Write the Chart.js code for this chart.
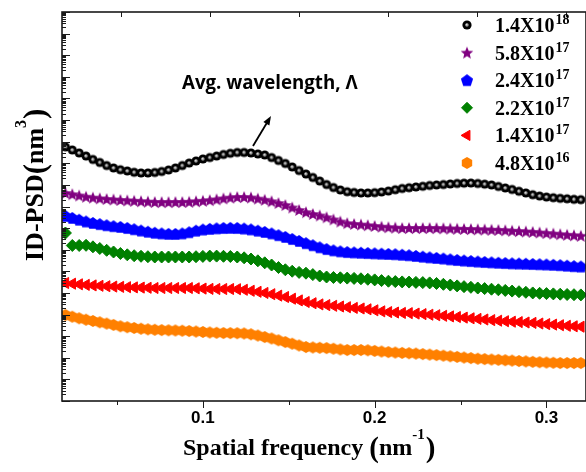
<!DOCTYPE html>
<html>
<head>
<meta charset="utf-8">
<script src="https://cdn.jsdelivr.net/npm/chart.js@4.4.1/dist/chart.umd.min.js"></script>
<style>
  html, body { margin: 0; padding: 0; background: #fff; }
  #wrap { width: 586px; height: 472px; }
</style>
</head>
<body>
<div id="wrap"><canvas id="psdChart" width="586" height="472"></canvas></div>
<script>
// spatial frequency (nm^-1)
const freq = [0.020,0.024,0.028,0.032,0.036,0.040,0.044,0.048,0.052,0.056,
  0.060,0.064,0.068,0.072,0.076,0.080,0.084,0.088,0.092,0.096,
  0.100,0.104,0.108,0.112,0.116,0.120,0.124,0.128,0.132,0.136,
  0.140,0.144,0.148,0.152,0.156,0.160,0.164,0.168,0.172,0.176,
  0.180,0.184,0.188,0.192,0.196,0.200,0.204,0.208,0.212,0.216,
  0.220,0.224,0.228,0.232,0.236,0.240,0.244,0.248,0.252,0.256,
  0.260,0.264,0.268,0.272,0.276,0.280,0.284,0.288,0.292,0.296,
  0.300,0.304,0.308,0.312,0.316,0.320];

// 1D-PSD (nm^3) for each fluence
const psd14e18 = [5.68e11,4.12e11,2.99e11,2.17e11,1.50e11,1.09e11,7.89e10,6.05e10,5.05e10,4.40e10,
  3.83e10,3.55e10,3.55e10,3.75e10,4.17e10,4.89e10,6.05e10,7.89e10,1.03e11,1.28e11,
  1.58e11,1.85e11,2.17e11,2.55e11,2.90e11,3.16e11,3.16e11,2.99e11,2.69e11,2.42e11,
  1.85e11,1.35e11,9.77e10,6.73e10,4.63e10,3.19e10,2.20e10,1.51e10,1.04e10,7.57e9,
  5.81e9,4.84e9,4.45e9,4.22e9,4.22e9,4.36e9,4.69e9,5.21e9,5.98e9,6.81e9,
  7.41e9,8.00e9,8.61e9,9.38e9,9.89e9,1.04e10,1.10e10,1.16e10,1.20e10,1.22e10,
  1.16e10,1.08e10,9.89e9,8.43e9,7.18e9,6.12e9,5.05e9,4.22e9,3.52e9,3.06e9,
  2.75e9,2.55e9,2.39e9,2.27e9,2.15e9,2.07e9];
const psd58e17 = [4.22e9,3.71e9,3.23e9,2.84e9,2.58e9,2.39e9,2.22e9,2.11e9,2.00e9,1.91e9,
  1.84e9,1.76e9,1.69e9,1.61e9,1.60e9,1.60e9,1.61e9,1.61e9,1.65e9,1.74e9,
  1.84e9,1.96e9,2.15e9,2.37e9,2.58e9,2.75e9,2.75e9,2.61e9,2.32e9,2.04e9,
  1.74e9,1.45e9,1.17e9,8.99e8,6.89e8,5.46e8,4.50e8,3.84e8,3.16e8,2.53e8,
  2.02e8,1.69e8,1.55e8,1.46e8,1.36e8,1.26e8,1.17e8,1.10e8,1.06e8,1.01e8,
  1.01e8,1.01e8,1.01e8,1.01e8,1.00e8,9.79e7,9.59e7,9.40e7,9.20e7,9.00e7,
  8.81e7,8.63e7,8.45e7,8.26e7,7.93e7,7.59e7,7.28e7,6.97e7,6.68e7,6.27e7,
  5.87e7,5.57e7,5.22e7,4.91e7,4.66e7,4.41e7];
const psd24e17 = [3.64e8,2.94e8,2.43e8,2.02e8,1.73e8,1.52e8,1.35e8,1.22e8,1.13e8,1.01e8,
  8.81e7,7.67e7,6.75e7,6.07e7,5.64e7,5.40e7,5.35e7,5.64e7,6.40e7,7.59e7,
  8.53e7,9.20e7,9.70e7,1.01e8,1.02e8,1.01e8,9.48e7,8.63e7,7.59e7,6.61e7,
  5.64e7,4.70e7,3.88e7,3.13e7,2.54e7,2.00e7,1.60e7,1.29e7,1.07e7,9.31e6,
  8.36e6,7.76e6,7.45e6,7.21e6,6.98e6,6.76e6,6.55e6,6.34e6,6.14e6,5.82e6,
  5.52e6,5.13e6,4.75e6,4.42e6,4.14e6,3.88e6,3.56e6,3.34e6,3.14e6,2.98e6,
  2.82e6,2.70e6,2.59e6,2.48e6,2.40e6,2.33e6,2.28e6,2.23e6,2.18e6,2.12e6,
  2.07e6,2.00e6,1.92e6,1.82e6,1.73e6,1.66e6];
const psd22e17 = [5.94e7,1.57e7,1.57e7,1.60e7,1.36e7,1.14e7,9.40e6,7.85e6,6.68e6,5.82e6,
  5.28e6,4.97e6,4.75e6,4.60e6,4.60e6,4.60e6,4.60e6,4.60e6,4.60e6,4.75e6,
  4.91e6,5.07e6,5.07e6,4.97e6,4.85e6,4.60e6,4.23e6,3.72e6,3.07e6,2.48e6,
  1.96e6,1.50e6,1.18e6,1.01e6,8.93e5,8.20e5,7.06e5,6.08e5,5.47e5,5.19e5,
  5.02e5,4.86e5,4.71e5,4.52e5,4.29e5,4.02e5,3.72e5,3.49e5,3.35e5,3.24e5,
  3.18e5,3.08e5,3.01e5,2.92e5,2.74e5,2.51e5,2.31e5,2.12e5,1.96e5,1.82e5,
  1.69e5,1.59e5,1.49e5,1.40e5,1.31e5,1.22e5,1.14e5,1.07e5,1.00e5,9.62e4,
  9.31e4,9.04e4,8.75e4,8.47e4,8.30e4,8.11e4];
const psd14e17 = [2.88e5,2.68e5,2.51e5,2.36e5,2.23e5,2.14e5,2.05e5,1.97e5,1.91e5,1.85e5,
  1.81e5,1.77e5,1.73e5,1.69e5,1.69e5,1.69e5,1.69e5,1.69e5,1.69e5,1.64e5,
  1.59e5,1.54e5,1.52e5,1.52e5,1.52e5,1.49e5,1.40e5,1.26e5,1.13e5,1.00e5,
  8.75e4,7.53e4,6.49e4,5.42e4,4.52e4,3.81e4,3.35e4,2.95e4,2.74e4,2.54e4,
  2.36e4,2.19e4,2.03e4,1.91e4,1.75e4,1.57e4,1.41e4,1.30e4,1.24e4,1.19e4,
  1.16e4,1.11e4,1.05e4,9.84e3,9.33e3,8.75e3,8.22e3,7.71e3,7.23e3,6.71e3,
  6.30e3,5.90e3,5.53e3,5.20e3,4.92e3,4.67e3,4.48e3,4.29e3,4.11e3,3.85e3,
  3.61e3,3.43e3,3.21e3,3.02e3,2.86e3,2.74e3];
const psd48e16 = [9.53e3,7.96e3,6.71e3,5.78e3,5.04e3,4.38e3,3.81e3,3.32e3,2.86e3,2.60e3,
  2.39e3,2.21e3,2.07e3,1.97e3,1.91e3,1.87e3,1.83e3,1.79e3,1.73e3,1.64e3,
  1.56e3,1.48e3,1.43e3,1.40e3,1.39e3,1.37e3,1.33e3,1.22e3,1.07e3,914,
  780,643,537,448,370,315,299,290,281,263,
  242,229,229,229,222,208,195,183,175,168,
  163,156,148,140,133,125,117,110,103,96.6,
  90.6,86.7,83.2,80.5,77.1,74.0,70.8,67.9,65.0,62.4,
  60.4,58.5,57.3,57.3,57.3,57.3];

// legend text: mantissa and power of ten
const legendBase = ["1.4X10", "5.8X10", "2.4X10", "2.2X10", "1.4X10", "4.8X10"];
const legendPow = ["18", "17", "17", "17", "17", "16"];

// x axis ticks
const xTickValues = [0.05, 0.1, 0.15, 0.2, 0.25, 0.3];
const xTickLabels = ["", "0.1", "", "0.2", "", "0.3"];
const topTickValues = [0.05, 0.1, 0.15, 0.2, 0.25, 0.3];

// little canvases used as point markers
function makeMarker(draw) {
    let c = document.createElement("canvas");
    c.width = 16; c.height = 16;
    let g = c.getContext("2d");
    draw(g, 8, 8);
    return c;
}
function polyPath(g, cx, cy, n, r, r2) {
    g.beginPath();
    let count = r2 ? n * 2 : n;
    for (let i = 0; i < count; i++) {
        let rr = (r2 && i % 2 === 1) ? r2 : r;
        let a = -Math.PI / 2 + i * 2 * Math.PI / count;
        let px = cx + rr * Math.cos(a), py = cy + rr * Math.sin(a);
        if (i === 0) g.moveTo(px, py); else g.lineTo(px, py);
    }
    g.closePath();
}

const sphere = makeMarker(function (g, cx, cy) {
    g.fillStyle = "#000";
    g.beginPath(); g.arc(cx, cy, 4.6, 0, Math.PI * 2); g.fill();
    let grad = g.createRadialGradient(cx - 0.4, cy - 0.4, 0, cx, cy, 2.3);
    grad.addColorStop(0, "#e6e6e6");
    grad.addColorStop(0.55, "#8a8a8a");
    grad.addColorStop(1, "#000");
    g.fillStyle = grad;
    g.beginPath(); g.arc(cx, cy, 2.3, 0, Math.PI * 2); g.fill();
});
const star = makeMarker(function (g, cx, cy) {
    g.fillStyle = "#800080";
    polyPath(g, cx, cy + 0.6, 5, 6.6, 2.9); g.fill();
});
const pentagon = makeMarker(function (g, cx, cy) {
    g.fillStyle = "#0000ff";
    polyPath(g, cx, cy + 0.5, 5, 6.4); g.fill();
});
const hexagon = makeMarker(function (g, cx, cy) {
    g.fillStyle = "#ff8000";
    polyPath(g, cx, cy, 6, 6); g.fill();
});

const series = [
    { values: psd14e18, style: sphere, radius: 4, color: "#000000", rot: 0 },
    { values: psd58e17, style: star, radius: 5, color: "#800080", rot: 0 },
    { values: psd24e17, style: pentagon, radius: 5, color: "#0000ff", rot: 0 },
    { values: psd22e17, style: "rectRot", radius: 6, color: "#008000", rot: 0 },
    { values: psd14e17, style: "triangle", radius: 6.4, color: "#ff0000", rot: -90 },
    { values: psd48e16, style: hexagon, radius: 5, color: "#ff8000", rot: 0 }
];

const decor = {
    id: "decor",
    afterDatasetsDraw(chart) {
        const { ctx, chartArea: a, scales } = chart;
        ctx.save();
        ctx.strokeStyle = "#1a1a1a";

        // log ticks on the left, pointing in
        ctx.lineWidth = 1;
        for (let e = 0; e <= 18; e++) {
            for (let k = 1; k <= 9; k++) {
                let v = k * Math.pow(10, e);
                if (v > 1e18) break;
                let py = Math.round(scales.y.getPixelForValue(v)) + 0.5;
                let len = k === 1 ? 8 : 4;
                ctx.beginPath(); ctx.moveTo(a.left, py); ctx.lineTo(a.left + len, py); ctx.stroke();
            }
        }
        // bottom ticks, pointing out
        xTickValues.forEach((v, i) => {
            let px = Math.round(scales.x.getPixelForValue(v)) + 0.5;
            let len = xTickLabels[i] ? 7 : 4;
            ctx.beginPath(); ctx.moveTo(px, a.bottom); ctx.lineTo(px, a.bottom + len); ctx.stroke();
        });
        // top ticks, pointing in
        topTickValues.forEach(v => {
            let px = Math.round(scales.x2.getPixelForValue(v)) + 0.5;
            ctx.beginPath(); ctx.moveTo(px, a.top); ctx.lineTo(px, a.top + 5); ctx.stroke();
        });

        // frame
        ctx.lineWidth = 1.6;
        ctx.strokeRect(a.left, a.top, a.right - a.left, a.bottom - a.top);
        ctx.restore();
    },
    afterDraw(chart) {
        const { ctx, scales } = chart;
        ctx.save();
        ctx.fillStyle = "#000";

        // x tick labels
        ctx.font = "bold 17px 'Liberation Sans', Arial, sans-serif";
        ctx.textAlign = "center";
        ctx.textBaseline = "alphabetic";
        xTickValues.forEach((v, i) => {
            if (xTickLabels[i]) ctx.fillText(xTickLabels[i], scales.x.getPixelForValue(v), 423);
        });

        ctx.textAlign = "left";
        const serif = "'Liberation Serif', 'Times New Roman', serif";

        // x title
        let x = 183, base = 455;
        ctx.font = "bold 24px " + serif;
        ctx.fillText("Spatial frequency ", x, base);
        x += ctx.measureText("Spatial frequency ").width;
        ctx.font = "bold 29px " + serif;
        ctx.fillText("(", x, base + 2);
        x += ctx.measureText("(").width;
        ctx.font = "bold 24px " + serif;
        ctx.fillText("nm", x, base);
        x += ctx.measureText("nm").width;
        ctx.font = "bold 15px " + serif;
        ctx.fillText("-1", x, base - 16);
        x += ctx.measureText("-1").width + 1;
        ctx.font = "bold 29px " + serif;
        ctx.fillText(")", x, base + 2);

        // y title
        ctx.save();
        ctx.translate(43, 261);
        ctx.rotate(-Math.PI / 2);
        let y = 0;
        ctx.font = "bold 26px " + serif;
        ctx.fillText("ID-PSD", y, 0);
        y += ctx.measureText("ID-PSD").width;
        ctx.font = "bold 31px " + serif;
        ctx.fillText("(", y, 2);
        y += ctx.measureText("(").width;
        ctx.font = "bold 26px " + serif;
        ctx.fillText("nm", y, 0);
        y += ctx.measureText("nm").width;
        ctx.font = "bold 16px " + serif;
        ctx.fillText("3", y, -17);
        y += ctx.measureText("3").width + 1;
        ctx.font = "bold 31px " + serif;
        ctx.fillText(")", y, 2);
        ctx.restore();

        // legend
        series.forEach((s, i) => {
            let rowBase = 32 + i * 27.6;
            let mx = 467, my = rowBase - 7;
            if (typeof s.style === "string") {
                ctx.fillStyle = s.color; ctx.strokeStyle = s.color; ctx.lineWidth = 1;
                Chart.helpers.drawPoint(ctx, { pointStyle: s.style, radius: s.radius - 0.5, rotation: s.rot, borderWidth: 1 }, mx, my);
            } else {
                ctx.drawImage(s.style, mx - 8, my - 8);
            }
            ctx.fillStyle = "#000";
            ctx.font = "bold 20px " + serif;
            ctx.fillText(legendBase[i], 495, rowBase);
            let w = ctx.measureText(legendBase[i]).width;
            ctx.font = "bold 14px " + serif;
            ctx.fillText(legendPow[i], 495 + w + 1, rowBase - 8);
        });

        // annotation, sized to span the same width as in the figure
        const note = "Avg. wavelength, \u039B";
        ctx.font = "bold 16px 'Open Sans', 'Noto Sans', sans-serif";
        let fs = 16 * 176 / ctx.measureText(note).width;
        ctx.font = "bold " + fs.toFixed(1) + "px 'Open Sans', 'Noto Sans', sans-serif";
        ctx.fillText(note, 182, 89);

        // arrow
        let x0 = 253, y0 = 146, x1 = 271, y1 = 116;
        let ang = Math.atan2(y1 - y0, x1 - x0);
        ctx.strokeStyle = "#000"; ctx.lineWidth = 1.8;
        ctx.beginPath(); ctx.moveTo(x0, y0);
        ctx.lineTo(x1 - 7 * Math.cos(ang), y1 - 7 * Math.sin(ang)); ctx.stroke();
        ctx.beginPath();
        ctx.moveTo(x1, y1);
        ctx.lineTo(x1 - 9 * Math.cos(ang) + 3.5 * Math.sin(ang), y1 - 9 * Math.sin(ang) - 3.5 * Math.cos(ang));
        ctx.lineTo(x1 - 9 * Math.cos(ang) - 3.5 * Math.sin(ang), y1 - 9 * Math.sin(ang) + 3.5 * Math.cos(ang));
        ctx.closePath(); ctx.fill();

        ctx.restore();
    }
};

new Chart(document.getElementById("psdChart").getContext("2d"), {
    type: "scatter",
    data: {
        datasets: series.map((s, i) => ({
            label: legendBase[i] + legendPow[i],
            data: freq.map((f, j) => ({ x: f, y: s.values[j] })),
            pointStyle: s.style,
            pointRadius: s.radius,
            pointRotation: s.rot,
            backgroundColor: s.color,
            borderColor: s.color,
            borderWidth: 1,
            showLine: false
        }))
    },
    options: {
        responsive: false,
        animation: false,
        events: [],
        layout: { autoPadding: false, padding: { left: 62, top: 12, right: 0, bottom: 71 } },
        plugins: { legend: { display: false }, tooltip: { enabled: false } },
        scales: {
            x: { type: "linear", min: 0.018, max: 0.323, display: false },
            x2: { type: "linear", axis: "x", position: "top", min: 0.01685, max: 0.31123, display: false },
            y: { type: "logarithmic", min: 1, max: 1e18, display: false }
        }
    },
    plugins: [decor]
});
</script>
</body>
</html>
